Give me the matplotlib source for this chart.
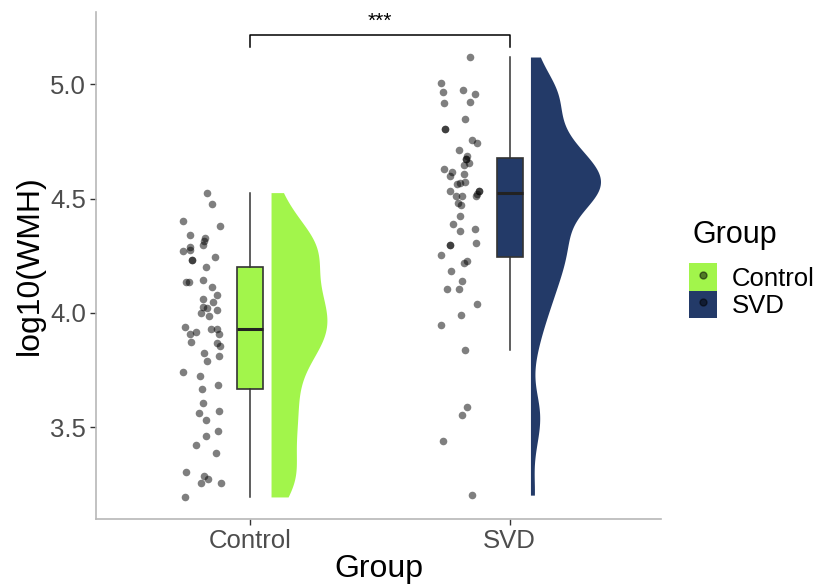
import numpy as np
import matplotlib
matplotlib.use('Agg')
import matplotlib.pyplot as plt
from matplotlib.patches import Patch
from matplotlib.lines import Line2D

plt.rcParams['font.family'] = ['Liberation Sans', 'DejaVu Sans']

groups = ['Control', 'SVD']
colors = ['#A2F54B', '#233A68']

# log10(WMH) per subject
control_wmh = [4.526, 4.476, 4.401, 4.378, 4.341, 4.327, 4.316, 4.296, 4.290, 4.271,
               4.276, 4.246, 4.232, 4.232, 4.200, 4.133, 4.133, 4.146, 4.112, 4.080,
               4.061, 4.047, 4.026, 4.021, 4.014, 3.999, 3.987, 3.939, 3.917, 3.907,
               3.929, 3.931, 3.908, 3.873, 3.867, 3.853, 3.825, 3.813, 3.791, 3.743,
               3.723, 3.669, 3.686, 3.606, 3.563, 3.570, 3.532, 3.484, 3.461, 3.423,
               3.388, 3.305, 3.287, 3.273, 3.258, 3.258, 3.195]
svd_wmh = [5.119, 5.005, 4.967, 4.976, 4.959, 4.916, 4.922, 4.847, 4.804, 4.804,
           4.754, 4.742, 4.713, 4.687, 4.672, 4.672, 4.655, 4.646, 4.629, 4.614,
           4.599, 4.608, 4.572, 4.563, 4.567, 4.535, 4.513, 4.512, 4.531, 4.531,
           4.521, 4.512, 4.481, 4.471, 4.423, 4.389, 4.360, 4.367, 4.305, 4.297,
           4.297, 4.252, 4.227, 4.219, 4.181, 4.141, 4.106, 4.106, 4.038, 3.991,
           3.948, 3.838, 3.590, 3.552, 3.441, 3.203]

# horizontal jitter of the raw points, offset from the group centre
control_jitter = [-0.167, -0.146, -0.260, -0.116, -0.234, -0.174, -0.178, -0.183, -0.232, -0.260,
                  -0.232, -0.136, -0.225, -0.225, -0.169, -0.247, -0.237, -0.181, -0.147, -0.127,
                  -0.181, -0.144, -0.184, -0.167, -0.130, -0.190, -0.158, -0.252, -0.210, -0.234,
                  -0.151, -0.130, -0.120, -0.229, -0.129, -0.116, -0.178, -0.122, -0.167, -0.261,
                  -0.192, -0.186, -0.124, -0.184, -0.198, -0.122, -0.170, -0.124, -0.169, -0.208,
                  -0.134, -0.248, -0.180, -0.163, -0.190, -0.113, -0.251]
svd_jitter = [-0.154, -0.266, -0.256, -0.180, -0.134, -0.252, -0.154, -0.173, -0.248, -0.248,
              -0.147, -0.125, -0.196, -0.163, -0.169, -0.169, -0.156, -0.176, -0.255, -0.221,
              -0.229, -0.176, -0.173, -0.205, -0.193, -0.230, -0.208, -0.185, -0.119, -0.119,
              -0.125, -0.131, -0.200, -0.186, -0.190, -0.217, -0.192, -0.134, -0.129, -0.229,
              -0.229, -0.263, -0.163, -0.176, -0.225, -0.183, -0.242, -0.196, -0.125, -0.186,
              -0.263, -0.173, -0.166, -0.185, -0.258, -0.146]

values = [np.array(control_wmh), np.array(svd_wmh)]
jitters = [np.array(control_jitter), np.array(svd_jitter)]


def kde(x, grid, adjust=0.75):
    # gaussian kernel, bw.nrd0 like R
    n = len(x)
    iqr = np.subtract(*np.percentile(x, [75, 25]))
    bw = adjust * 0.9 * min(np.std(x, ddof=1), iqr / 1.34) * n ** -0.2
    z = (grid[:, None] - x[None, :]) / bw
    return np.exp(-0.5 * z ** 2).sum(axis=1) / (n * bw * np.sqrt(2 * np.pi))


fig = plt.figure(figsize=(8.2, 5.87), dpi=100)
ax = fig.add_axes([0.117, 0.116, 0.689, 0.864])

# half violins
grids = [np.linspace(v.min(), v.max(), 400) for v in values]
dens = [kde(v, g) for v, g in zip(values, grids)]
dmax = max(d.max() for d in dens)
for i, (g, d) in enumerate(zip(grids, dens)):
    x0 = i + 1 + 0.08
    ax.fill_betweenx(g, x0, x0 + 0.27 * d / dmax, color=colors[i], lw=0, zorder=1)

# boxes
for i, v in enumerate(values):
    ax.boxplot(v, positions=[i + 1], widths=0.1, showfliers=False, patch_artist=True,
               boxprops=dict(facecolor=colors[i], edgecolor='#333333', lw=1.2),
               medianprops=dict(color='#222222', lw=2.2),
               whiskerprops=dict(color='#333333', lw=1.1),
               capprops=dict(lw=0), manage_ticks=False, zorder=2)

# raw points
for i, v in enumerate(values):
    ax.scatter(i + 1 + jitters[i], v, s=30, color='black', alpha=0.5, lw=0, zorder=3)

# significance bracket
ax.plot([1, 1, 2, 2], [5.164, 5.216, 5.216, 5.164], color='black', lw=1.1, clip_on=False)
ax.text(1.5, 5.235, '***', ha='center', va='bottom', fontsize=15)

ax.set_xlim(0.405, 2.583)
ax.set_ylim(3.099, 5.317)
ax.set_xticks([1, 2])
ax.set_xticklabels(groups)
ax.set_yticks([3.5, 4.0, 4.5, 5.0])
ax.set_yticklabels(['3.5', '4.0', '4.5', '5.0'])
ax.tick_params(colors='#4D4D4D', labelsize=18.5, length=4, width=1, color='#333333', pad=3)
for s in ['top', 'right']:
    ax.spines[s].set_visible(False)
for s in ['left', 'bottom']:
    ax.spines[s].set_color('#B8B8B8')
    ax.spines[s].set_linewidth(1.2)
ax.set_xlabel('Group', fontsize=23, labelpad=1)
ax.set_ylabel('log10(WMH)', fontsize=23, labelpad=4)

# legend: title drawn separately to leave a gap above the keys
fig.text(0.844, 0.586, 'Group', fontsize=22, ha='left', va='baseline')
handles = [(Patch(facecolor=c, edgecolor='none'),
            Line2D([], [], ls='', marker='o', color='black', alpha=0.5, ms=5))
           for c in colors]
leg = fig.legend(handles, groups, loc='upper left', bbox_to_anchor=(0.824, 0.573),
                 frameon=False, fontsize=18.5,
                 handlelength=1.1, handleheight=1.25, labelspacing=0.0, borderpad=0,
                 handletextpad=0.6)

fig.savefig('out.png', dpi=100)
